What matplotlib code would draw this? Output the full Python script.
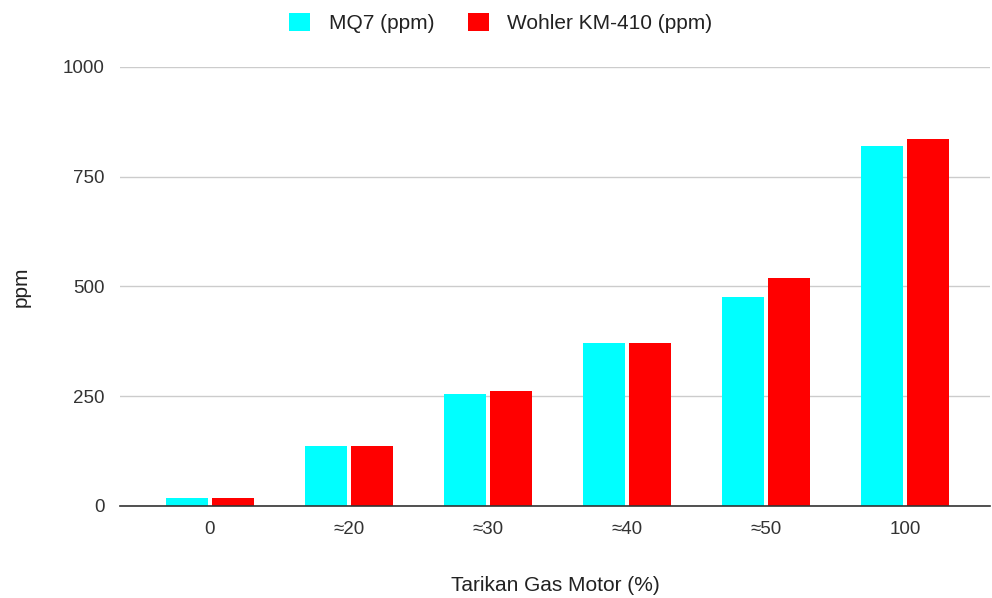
import numpy as np
import matplotlib.pyplot as plt

# ==== data ==== #
CATEGORIES = ['0', '≈20', '≈30', '≈40', '≈50', '100']
MQ7 = [17, 137, 254, 371, 475, 821]
WOHLER = [17, 137, 262, 371, 519, 837]
Y_TICKS = [0, 250, 500, 750, 1000]

CYAN = '#00ffff'
RED = '#ff0000'
TEXT = '#333333'

plt.rcParams['font.family'] = ['Liberation Sans', 'DejaVu Sans']

fig = plt.figure(figsize=(9.92, 5.98), dpi=100)
ax = fig.add_axes([0.121, 0.154, 0.877, 0.734])

x = np.arange(len(CATEGORIES))
width = 0.30
gap = 0.015
ax.bar(x - width / 2 - gap, MQ7, width, color=CYAN, label='MQ7 (ppm)', zorder=3)
ax.bar(x + width / 2 + gap, WOHLER, width, color=RED, label='Wohler KM-410 (ppm)', zorder=3)

ax.set_xlim(-0.647, 5.61)
ax.set_ylim(0, 1000)
ax.set_yticks(Y_TICKS)
ax.set_xticks(x)
ax.set_xticklabels(CATEGORIES)
ax.tick_params(axis='both', length=0, labelsize=13.5, colors=TEXT)
ax.tick_params(axis='y', pad=11)
ax.tick_params(axis='x', pad=11)
ax.grid(axis='y', color='#cccccc', linewidth=1, zorder=0)

for side in ['top', 'right', 'left']:
    ax.spines[side].set_visible(False)
ax.spines['bottom'].set_color('#333333')
ax.spines['bottom'].set_linewidth(1.2)
ax.spines['bottom'].set_zorder(4)

ax.set_xlabel('Tarikan Gas Motor (%)', fontsize=15, color='#222222')
ax.xaxis.set_label_coords(0.5, -0.16)
ax.set_ylabel('ppm', fontsize=15, color='#222222')
ax.yaxis.set_label_coords(-0.103, 0.5)

fig.legend(loc='upper center', bbox_to_anchor=(0.505, 1.01), ncol=2, frameon=False,
           fontsize=15, handlelength=1.0, handleheight=1.0, handletextpad=0.9,
           columnspacing=1.6, labelcolor='#222222')

fig.savefig('out.png', dpi=100)
